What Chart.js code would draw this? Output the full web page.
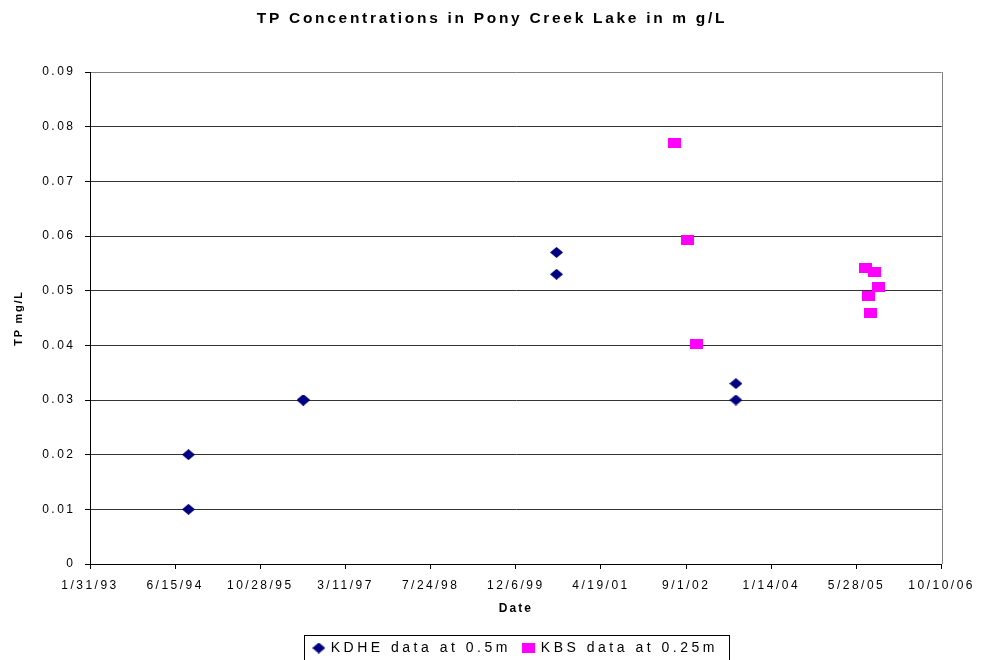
<!DOCTYPE html>
<html>
<head>
<meta charset="utf-8">
<script src="https://cdn.jsdelivr.net/npm/chart.js@4/dist/chart.umd.min.js"></script>
<style>
  html, body { margin: 0; padding: 0; background: #fff; }
  #wrap { width: 984px; height: 660px; }
</style>
</head>
<body>
<div id="wrap"><canvas id="tp-chart"></canvas></div>
<script>
// dates (m/d/yy), TP in mg/L
const kdheDates = ['9/1/94', '9/1/94', '7/6/96', '7/6/96', '8/1/00', '8/1/00', '6/20/03', '6/20/03'];
const kdheTP    = [0.02, 0.01, 0.03, 0.03, 0.057, 0.053, 0.033, 0.03];
const kbsDates  = ['6/22/02', '9/8/02', '10/31/02', '7/20/05', '8/8/05', '8/20/05', '9/8/05', '10/6/05'];
const kbsTP     = [0.077, 0.0593, 0.0403, 0.0542, 0.049, 0.046, 0.0534, 0.0507];
const xStart = '1/31/93';
const xEnd = '10/10/06';
const xStepDays = 500;
const yMax = 0.09;
const yStep = 0.01;

const FONT = "'Liberation Sans', Arial, sans-serif";

// excel style day serials
function toSerial(s) {
  const p = s.split('/').map(Number);
  const yr = p[2] < 50 ? 2000 + p[2] : 1900 + p[2];
  return (Date.UTC(yr, p[0] - 1, p[1]) - Date.UTC(1899, 11, 30)) / 86400000;
}
function fromSerial(n) {
  const d = new Date(Date.UTC(1899, 11, 30) + Math.round(n) * 86400000);
  const yy = String(d.getUTCFullYear() % 100).padStart(2, '0');
  return (d.getUTCMonth() + 1) + '/' + d.getUTCDate() + '/' + yy;
}

function pts(dates, vals) {
  const out = [];
  for (let i = 0; i < dates.length; i++) {
    out.push({ x: toSerial(dates[i]), y: vals[i] });
  }
  return out;
}

// markers like the excel ones (a bit wider than tall)
const diamond = document.createElement('canvas');
diamond.width = 13; diamond.height = 11;
let c = diamond.getContext('2d');
c.fillStyle = '#000080';
c.beginPath();
c.moveTo(6.5, 0); c.lineTo(13, 5.5); c.lineTo(6.5, 11); c.lineTo(0, 5.5);
c.closePath(); c.fill();

const square = document.createElement('canvas');
square.width = 13; square.height = 10;
c = square.getContext('2d');
c.fillStyle = '#FF00FF';
c.fillRect(0, 0, 13, 10);

// excel spreads its letters out, by a different amount per text
const spacingByFont = { 'n12': 2.5, 'b15.5': 2.7, 'n14': 3.5, 'b12': 2, 'b11': 1.7 };
function spacingFor(font) {
  const m = /(bold|700)?\s*([\d.]+)px/.exec(font);
  if (!m) return '0px';
  const key = (m[1] ? 'b' : 'n') + m[2];
  return (spacingByFont[key] || 0) + 'px';
}
const canvas = document.getElementById('tp-chart');
const ctx2d = canvas.getContext('2d');
const origFill = ctx2d.fillText;
const origMeasure = ctx2d.measureText;
ctx2d.fillText = function (t, x, y) {
  this.letterSpacing = spacingFor(this.font);
  return origFill.call(this, t, x, y);
};
ctx2d.measureText = function (t) {
  this.letterSpacing = spacingFor(this.font);
  return origMeasure.call(this, t);
};

const frame = {
  id: 'frame',
  afterDraw(chart) {
    const ctx = chart.ctx;
    const a = chart.chartArea;
    ctx.save();
    ctx.strokeStyle = '#808080';
    ctx.lineWidth = 1;
    ctx.beginPath();
    ctx.moveTo(Math.round(a.right) + 0.5, a.top);
    ctx.lineTo(Math.round(a.right) + 0.5, a.bottom);
    ctx.stroke();
    // box round the legend
    const boxes = chart.legend.legendHitBoxes;
    if (boxes && boxes.length) {
      const l = boxes[0].left - 10;
      const last = boxes[boxes.length - 1];
      const r = last.left + last.width + 11;
      const t = boxes[0].top - 6;
      ctx.strokeStyle = '#000';
      ctx.strokeRect(Math.round(l) + 0.5, Math.round(t) + 0.5, Math.round(r - l), 40);
    }
    ctx.restore();
  }
};

new Chart(canvas, {
  type: 'scatter',
  data: {
    datasets: [{
      label: 'KDHE data at 0.5m',
      data: pts(kdheDates, kdheTP),
      pointStyle: diamond,
      backgroundColor: '#000080',
      borderColor: '#000080'
    }, {
      label: 'KBS data at 0.25m',
      data: pts(kbsDates, kbsTP),
      pointStyle: square,
      backgroundColor: '#FF00FF',
      borderColor: '#FF00FF'
    }]
  },
  options: {
    responsive: true,
    maintainAspectRatio: false,
    animation: false,
    layout: { padding: { left: 0, right: 0, top: 0, bottom: -5 } },
    plugins: {
      title: {
        display: true,
        text: 'TP Concentrations in Pony Creek Lake in m g/L',
        color: '#000',
        font: { family: FONT, size: 15.5, weight: 'bold' },
        padding: { top: 9, bottom: 44.4 }
      },
      legend: {
        position: 'bottom',
        fullSize: false,
        labels: {
          usePointStyle: true,
          pointStyleWidth: 10,
          color: '#000',
          font: { family: FONT, size: 14 },
          padding: 13
        }
      },
      tooltip: { enabled: false }
    },
    scales: {
      x: {
        type: 'linear',
        min: toSerial(xStart),
        max: toSerial(xEnd),
        afterFit(scale) { scale.height = 64; },
        border: { color: '#000', width: 1 },
        grid: { drawOnChartArea: false, tickLength: 5, tickColor: '#000' },
        ticks: {
          stepSize: xStepDays,
          autoSkip: false,
          maxRotation: 0,
          color: '#000',
          padding: 9,
          font: { family: FONT, size: 12 },
          callback: v => fromSerial(v)
        },
        title: {
          display: true,
          text: 'Date',
          color: '#000',
          font: { family: FONT, size: 12, weight: 'bold' },
          padding: { top: 0, bottom: 12.3 }
        }
      },
      y: {
        min: 0,
        max: yMax,
        afterFit(scale) { scale.width = 90; },
        border: { color: '#000', width: 1 },
        grid: {
          color: ctx => (ctx.tick && Math.abs(ctx.tick.value - yMax) < 1e-9) ? '#808080' : '#333',
          tickLength: 5,
          tickColor: '#000'
        },
        ticks: {
          stepSize: yStep,
          color: '#000',
          padding: 9.5,
          font: { family: FONT, size: 12 },
          callback: v => v === 0 ? '0' : v.toFixed(2)
        },
        title: {
          display: true,
          text: 'TP mg/L',
          color: '#000',
          font: { family: FONT, size: 11, weight: 'bold' },
          padding: { top: 12, bottom: 0 }
        }
      },
      // empty strip on the right so the plot ends where excel's does
      yRight: {
        position: 'right',
        afterFit(scale) { scale.width = 41; },
        border: { display: false },
        grid: { display: false },
        ticks: { display: false }
      }
    }
  },
  plugins: [frame]
});
</script>
</body>
</html>
